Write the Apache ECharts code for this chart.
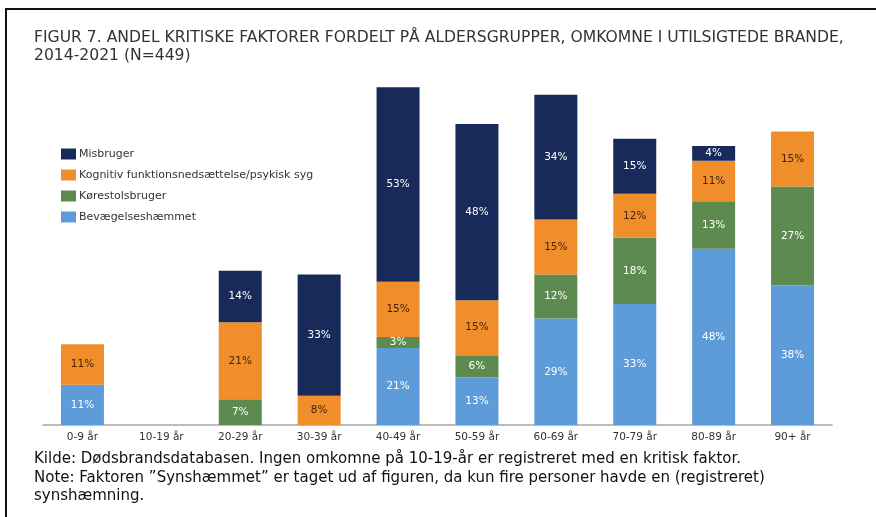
<!DOCTYPE html>
<html>
<head>
<meta charset="utf-8">
<script src="https://cdn.jsdelivr.net/npm/echarts@6/dist/echarts.min.js"></script>
<style>
  html, body { margin: 0; padding: 0; background: #fff; }
  #plot { width: 876px; height: 517px; }
</style>
</head>
<body>
<div id="plot"></div>
<script>
    // aldersgrupper
    var categories = ['0-9 år', '10-19 år', '20-29 år', '30-39 år', '40-49 år', '50-59 år', '60-69 år', '70-79 år', '80-89 år', '90+ år']

    // andel i procent (null = ingen)
    var bevaegelseshaemmet = [11, null, null, null, 21, 13, 29, 33, 48, 38]
    var koerestolsbruger   = [null, null, 7, null, 3, 6, 12, 18, 13, 27]
    var kognitiv           = [11, null, 21, 8, 15, 15, 15, 12, 11, 15]
    var misbruger          = [null, null, 14, 33, 53, 48, 34, 15, 4, null]

    var seriesNames = ['Misbruger', 'Kognitiv funktionsnedsættelse/psykisk syg', 'Kørestolsbruger', 'Bevægelseshæmmet']

    var chart = echarts.init(document.getElementById('plot'))

    function barSeries(name, data, color, labelColor){
        return {
            name: name,
            type: 'bar',
            stack: 'total',
            barWidth: 43,
            data: data,
            itemStyle: { color: color },
            label: {
                show: true,
                position: 'inside',
                formatter: '{c}%',
                color: labelColor,
                fontFamily: 'DejaVu Sans',
                fontSize: 10.5
            }
        }
    }

    var option = {
        backgroundColor: '#fff',
        animation: false,
        title: {
            text: 'FIGUR 7. ANDEL KRITISKE FAKTORER FORDELT PÅ ALDERSGRUPPER, OMKOMNE I UTILSIGTEDE BRANDE,\n2014-2021 (N=449)',
            left: 34,
            top: 29,
            padding: 0,
            textStyle: {
                fontFamily: 'DejaVu Sans',
                fontWeight: 'normal',
                fontSize: 15.6,
                lineHeight: 18,
                color: '#333'
            }
        },
        legend: {
            orient: 'vertical',
            left: 61,
            top: 148.5,
            padding: 0,
            itemWidth: 15,
            itemHeight: 11,
            itemGap: 10,
            icon: 'rect',
            data: seriesNames,
            textStyle: {
                fontFamily: 'DejaVu Sans',
                fontSize: 11,
                color: '#333',
                padding: [0, 0, 0, -2]
            }
        },
        grid: {
            left: 43,
            right: 44,
            top: 58,
            bottom: 92
        },
        xAxis: {
            type: 'category',
            data: categories,
            axisLine: { lineStyle: { color: '#a6a6a6', width: 1.5 } },
            axisTick: { show: false },
            axisLabel: {
                fontFamily: 'DejaVu Sans',
                fontSize: 10.5,
                color: '#333',
                margin: 7
            }
        },
        yAxis: {
            type: 'value',
            min: 0,
            max: 100,
            show: false
        },
        series: [
            barSeries('Bevægelseshæmmet', bevaegelseshaemmet, '#5e9bd9', '#fff'),
            barSeries('Kørestolsbruger', koerestolsbruger, '#5d8a4e', '#fff'),
            barSeries('Kognitiv funktionsnedsættelse/psykisk syg', kognitiv, '#ef8e2b', '#4a2208'),
            barSeries('Misbruger', misbruger, '#172a5a', '#fff')
        ],
        graphic: [
            {   // ramme
                type: 'rect',
                shape: { x: 6, y: 9, width: 1000, height: 1000 },
                style: { fill: 'none', stroke: '#111', lineWidth: 2 },
                silent: true
            },
            {
                type: 'text',
                left: 34,
                top: 450,
                style: {
                    text: 'Kilde: Dødsbrandsdatabasen. Ingen omkomne på 10-19-år er registreret med en kritisk faktor.\nNote: Faktoren ”Synshæmmet” er taget ud af figuren, da kun fire personer havde en (registreret)\nsynshæmning.',
                    font: '15px "DejaVu Sans"',
                    lineHeight: 18.5,
                    fill: '#111'
                }
            }
        ]
    }

    chart.setOption(option)
</script>
</body>
</html>
